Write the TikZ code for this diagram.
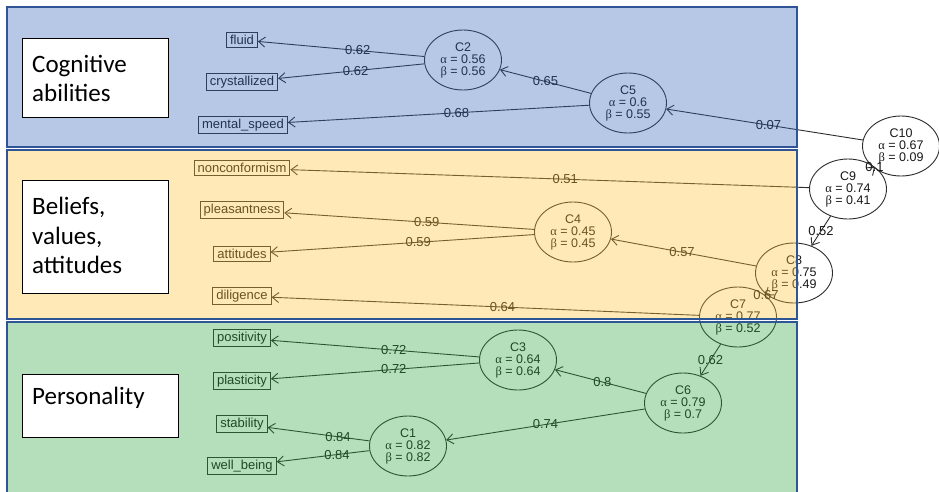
\documentclass[tikz,border=0pt]{standalone}
\usepackage{fontspec}
\setmainfont{Liberation Sans}
\newfontfamily\greekfont{Liberation Serif}
\newfontfamily\calloutfont{Carlito}
\usetikzlibrary{arrows.meta,shapes.geometric}

\newcommand{\gra}{{\greekfont α}}
\newcommand{\grb}{{\greekfont β}}

\definecolor{bandblue}{RGB}{49,98,184}
\definecolor{bandgold}{RGB}{255,192,49}
\definecolor{bandgreen}{RGB}{44,161,61}
\definecolor{bandedge}{RGB}{47,85,151}
\definecolor{ink}{RGB}{25,25,25}
\definecolor{wire}{RGB}{45,45,45}

\tikzset{
  latent/.style={ellipse, draw=wire, line width=0.9pt, minimum width=77pt,
    minimum height=60pt, inner sep=0pt, align=center, text=ink,
    font=\fontsize{12.5}{12}\selectfont},
  manifest/.style={rectangle, draw=wire, line width=0.9pt, inner xsep=3.5pt,
    inner ysep=2.5pt, text=ink, font=\fontsize{13}{15}\selectfont},
  load/.style={draw=wire, line width=0.9pt, -{Straight Barb[length=6.5pt,width=10pt]}},
  wt/.style={inner sep=0pt, text=ink, font=\fontsize{13}{14}\selectfont},
  bandline/.style={draw=bandedge, line width=2pt},
  catbox/.style={draw=black, fill=white, line width=0.8pt, inner sep=0pt,
    anchor=north west},
  cattext/.style={inner sep=0pt, align=left, anchor=north west,
    font=\calloutfont\fontsize{25}{29.5}\selectfont},
}

\begin{document}
\begin{tikzpicture}[x=1pt,y=-1pt]
\clip (0,0) rectangle (939,491);
\fill[white] (0,0) rectangle (939,491);

% observed indicators
\node[manifest] (fluid)    at (242,40)  {fluid};
\node[manifest] (cryst)    at (242,82)  {crystallized};
\node[manifest] (mspeed)   at (243,125) {mental\_speed};
\node[manifest] (noncon)   at (242,168) {nonconformism};
\node[manifest] (pleas)    at (242,210) {pleasantness};
\node[manifest] (attit)    at (242,254) {attitudes};
\node[manifest] (dilig)    at (242,296) {diligence};
\node[manifest] (posit)    at (242,338) {positivity};
\node[manifest] (plast)    at (242,381) {plasticity};
\node[manifest] (stabil)   at (242,424) {stability};
\node[manifest] (wellb)    at (242,466) {well\_being};

% hierarchical clusters
\node[latent] (C2)  at (463,60)  {C2\\\gra{} = 0.56\\\grb{} = 0.56};
\node[latent] (C5)  at (628,103) {C5\\\gra{} = 0.6\\\grb{} = 0.55};
\node[latent] (C10) at (901,146) {C10\\\gra{} = 0.67\\\grb{} = 0.09};
\node[latent] (C9)  at (848,189) {C9\\\gra{} = 0.74\\\grb{} = 0.41};
\node[latent] (C4)  at (573,232) {C4\\\gra{} = 0.45\\\grb{} = 0.45};
\node[latent] (C8)  at (794,273) {C8\\\gra{} = 0.75\\\grb{} = 0.49};
\node[latent] (C7)  at (738,317) {C7\\\gra{} = 0.77\\\grb{} = 0.52};
\node[latent] (C3)  at (518,360) {C3\\\gra{} = 0.64\\\grb{} = 0.64};
\node[latent] (C6)  at (683,403) {C6\\\gra{} = 0.79\\\grb{} = 0.7};
\node[latent] (C1)  at (408,446) {C1\\\gra{} = 0.82\\\grb{} = 0.82};

% loadings
\draw[load] (C2)  -- node[wt,pos=0.40] {0.62} (fluid);
\draw[load] (C2)  -- node[wt,pos=0.47] {0.62} (cryst);
\draw[load] (C5)  -- node[wt,pos=0.50] {0.65} (C2);
\draw[load] (C5)  -- node[wt,pos=0.44] {0.68} (mspeed);
\draw[load] (C10) -- node[wt,pos=0.48] {0.07} (C5);
\draw[load] (C10) -- node[wt,pos=0.50] {0.1}  (C9);
\draw[load] (C9)  -- node[wt,pos=0.47] {0.51} (noncon);
\draw[load] (C9)  -- node[wt,pos=0.50] {0.52} (C8);
\draw[load] (C4)  -- node[wt,pos=0.43] {0.59} (pleas);
\draw[load] (C4)  -- node[wt,pos=0.44] {0.59} (attit);
\draw[load] (C8)  -- node[wt,pos=0.51] {0.57} (C4);
\draw[load] (C8)  -- node[wt,pos=0.50] {0.67} (C7);
\draw[load] (C7)  -- node[wt,pos=0.46] {0.64} (dilig);
\draw[load] (C7)  -- node[wt,pos=0.50] {0.62} (C6);
\draw[load] (C3)  -- node[wt,pos=0.41] {0.72} (posit);
\draw[load] (C3)  -- node[wt,pos=0.41] {0.72} (plast);
\draw[load] (C6)  -- node[wt,pos=0.48] {0.8}  (C3);
\draw[load] (C6)  -- node[wt,pos=0.50] {0.74} (C1);
\draw[load] (C1)  -- node[wt,pos=0.31] {0.84} (stabil);
\draw[load] (C1)  -- node[wt,pos=0.35] {0.84} (wellb);

% translucent domain bands laid over the graph
\fill[bandblue,  fill opacity=0.35] (7,7)   rectangle (797,147);
\fill[bandgold,  fill opacity=0.35] (7,150) rectangle (797,319);
\fill[bandgreen, fill opacity=0.35] (7,322) rectangle (797,510);
\draw[bandline] (7,7)   rectangle (797,147);
\draw[bandline] (7,150) rectangle (797,319);
\draw[bandline] (7,322) rectangle (797,510);

% domain captions
\node[catbox, minimum width=146pt, minimum height=79pt] (cogbox) at (22,38) {};
\node[cattext] (cogtext) at (32,55) {Cognitive\\abilities};
\node[catbox, minimum width=146pt, minimum height=113pt] (belbox) at (22,180) {};
\node[cattext] (beltext) at (32,197) {Beliefs,\\values,\\attitudes};
\node[catbox, minimum width=156pt, minimum height=63pt] (perbox) at (22,374) {};
\node[cattext] (pertext) at (32,387) {Personality};
\end{tikzpicture}
\end{document}
